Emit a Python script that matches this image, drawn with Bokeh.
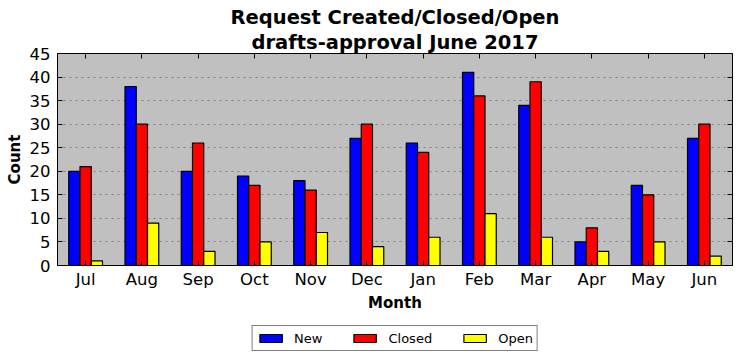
from bokeh.plotting import figure
from bokeh.layouts import column
from bokeh.models import (ColumnDataSource, FixedTicker, LinearAxis, Range1d,
                          Legend, LegendItem, Title)
from bokeh.embed import file_html
from bokeh.resources import INLINE

months = ["Jul", "Aug", "Sep", "Oct", "Nov", "Dec", "Jan", "Feb", "Mar", "Apr", "May", "Jun"]
new_vals = [20, 38, 20, 19, 18, 27, 26, 41, 34, 5, 17, 27]
closed_vals = [21, 30, 26, 17, 16, 30, 24, 36, 39, 8, 15, 30]
open_vals = [1, 9, 3, 5, 7, 4, 6, 11, 6, 3, 5, 2]
series_names = ["New", "Closed", "Open"]
series_keys = ["new", "closed", "open"]
series_colors = ["#0000ff", "#ff0000", "#ffff00"]

idx = list(range(len(months)))
bw = 0.2
src = ColumnDataSource(dict(
    x=idx,
    xn=[i - bw for i in idx],
    xo=[i + bw for i in idx],
    new=new_vals, closed=closed_vals, open=open_vals,
))
xcols = ["xn", "x", "xo"]

FONT = "DejaVu Sans"

p = figure(width=740, height=318, output_backend="svg", toolbar_location=None,
           x_range=Range1d(-0.5, 11.5), y_range=Range1d(0, 45),
           min_border_right=8, min_border_left=57, min_border_top=53, min_border_bottom=53)
p.background_fill_color = "#c0c0c0"
p.border_fill_color = "white"
p.outline_line_color = "black"
p.outline_line_width = 1

for xc, key, col in zip(xcols, series_keys, series_colors):
    p.vbar(x=xc, top=key, width=bw, source=src, fill_color=col, line_color="black", line_width=1.2)

xt = FixedTicker(ticks=idx)
yt = FixedTicker(ticks=list(range(0, 46, 5)))
overrides = {i: m for i, m in zip(idx, months)}

xa = p.xaxis[0]
xa.ticker = xt
xa.major_label_overrides = overrides
xa.axis_label = "Month"
ya = p.yaxis[0]
ya.ticker = yt
ya.axis_label = "Count"

for ax in (xa, ya):
    ax.major_tick_in = 5
    ax.major_tick_out = 0
    ax.minor_tick_line_color = None
    ax.axis_line_color = "black"
    ax.major_tick_line_color = "black"
    ax.major_label_text_font = FONT
    ax.major_label_text_font_size = "16.5px"
    ax.major_label_text_color = "black"
    ax.axis_label_text_font = FONT
    ax.axis_label_text_font_size = "15px"
    ax.axis_label_text_font_style = "bold"
    ax.axis_label_text_color = "black"
xa.major_label_standoff = 4
xa.axis_label_standoff = 2
ya.major_label_standoff = 7
ya.axis_label_standoff = 3

top_ax = LinearAxis(ticker=FixedTicker(ticks=idx), major_tick_in=5, major_tick_out=0,
                    minor_tick_line_color=None, major_label_text_font_size="0px",
                    major_label_standoff=0, axis_line_color="black")
top_ax.major_label_overrides = {i: "" for i in idx}
right_ax = LinearAxis(ticker=FixedTicker(ticks=list(range(0, 46, 5))), major_tick_in=5, major_tick_out=0,
                      minor_tick_line_color=None, major_label_text_font_size="0px",
                      major_label_standoff=0, axis_line_color="black")
right_ax.major_label_overrides = {v: "" for v in range(0, 46, 5)}
p.add_layout(top_ax, "above")
p.add_layout(right_ax, "right")

p.xgrid.grid_line_color = None
p.ygrid.ticker = yt
p.ygrid.grid_line_color = "#808080"
p.ygrid.grid_line_dash = "2 4"
p.ygrid.grid_line_width = 1

p.title = None
p.add_layout(Title(text="drafts-approval June 2017", align="center", text_font=FONT,
                   text_font_size="19.5px", text_font_style="bold", text_color="black",
                   standoff=0), "above")
p.add_layout(Title(text="Request Created/Closed/Open", align="center", text_font=FONT,
                   text_font_size="19.5px", text_font_style="bold", text_color="black",
                   standoff=0), "above")

# separate strip holding the legend; its proxy renderers use the same data but
# are hidden, so only the legend swatches show
lg = figure(width=740, height=40, output_backend="svg", toolbar_location=None,
            x_range=Range1d(-0.5, 11.5), y_range=Range1d(-2, -1),
            x_axis_type=None, y_axis_type=None,
            min_border_right=8, min_border_left=57, min_border_top=0, min_border_bottom=0)
lg.outline_line_color = None
lg.background_fill_color = "white"
lg.grid.grid_line_color = None
items = []
for name, xc, key, col in zip(series_names, xcols, series_keys, series_colors):
    r = lg.vbar(x=xc, top=key, width=bw, source=src, fill_color=col, line_color="black", line_width=1.2)
    r.visible = False
    items.append(LegendItem(label=name, renderers=[r]))
legend = Legend(items=items, orientation="horizontal", location="center",
                label_text_font=FONT, label_text_font_size="13px", label_text_color="black",
                glyph_width=28, glyph_height=10, label_height=16, spacing=28, padding=4, margin=0,
                border_line_color="black", border_line_width=1, label_standoff=10,
                background_fill_color="white", background_fill_alpha=1, click_policy="none")
lg.add_layout(legend, "center")

layout = column(p, lg, spacing=0)
open("out.html", "w").write(file_html(layout, INLINE))
